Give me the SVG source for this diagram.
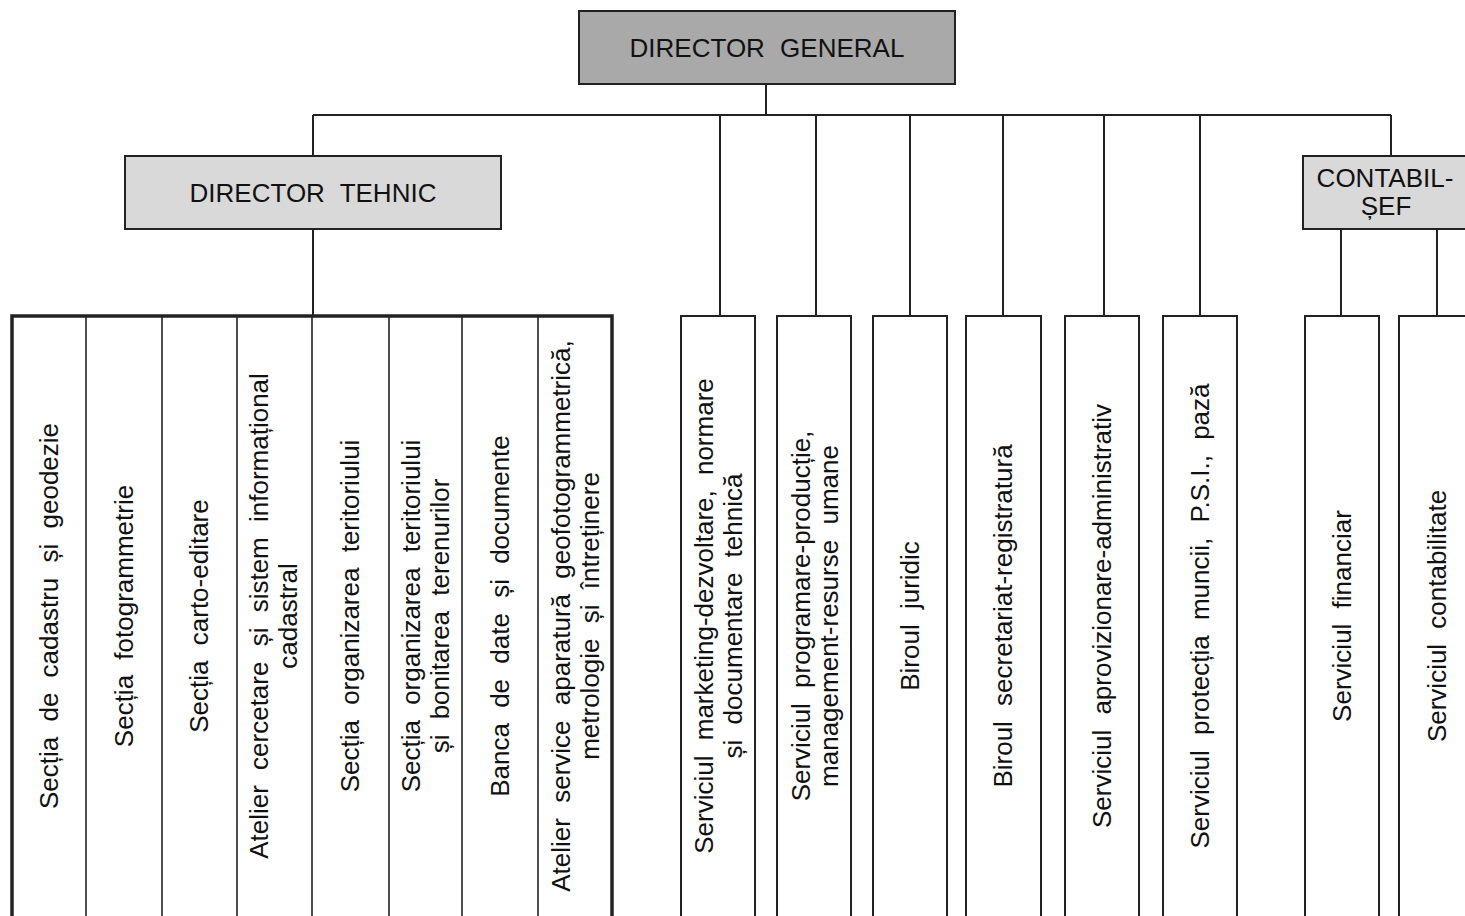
<svg xmlns="http://www.w3.org/2000/svg" width="1465" height="916" viewBox="0 0 1465 916">
<style>
.hdr{font-family:"Liberation Sans",Arial,sans-serif;font-size:26px;fill:#111;text-anchor:middle;word-spacing:8px}
.col{font-family:"Liberation Sans",Arial,sans-serif;font-size:26px;fill:#111;text-anchor:middle;word-spacing:8px}
.box{stroke:#222;stroke-width:2;fill:#fff}
.conn{stroke:#222;stroke-width:2;fill:none}
.div{stroke:#222;stroke-width:1.6}
</style>
<rect width="1465" height="916" fill="#fff"/>
<g id="connectors">
<path class="conn" d="M766 84V115M313 115H1391M313 115V156M1391 115V156M313 229V316M720 115V316M816 115V316M910 115V316M1003 115V316M1104 115V316M1200 115V316M1341 229V316M1437 229V316"/>
</g>
<g id="director-general">
<rect x="579" y="11" width="376" height="73" fill="#a9a9a9" stroke="#222" stroke-width="2"/>
<text class="hdr" x="767" y="57">DIRECTOR GENERAL</text>
</g>
<g id="director-tehnic">
<rect x="125" y="156" width="376" height="73" fill="#d9d9d9" stroke="#222" stroke-width="2"/>
<text class="hdr" x="313" y="202">DIRECTOR TEHNIC</text>
</g>
<g id="contabil-sef">
<rect x="1303" y="156" width="172" height="73" fill="#d9d9d9" stroke="#222" stroke-width="2"/>
<text class="hdr" x="1385" y="187">CONTABIL-</text>
<text class="hdr" x="1386" y="215">ȘEF</text>
</g>
<g id="tech-block">
<rect x="12" y="316" width="600" height="640" fill="#fff" stroke="#222" stroke-width="3.5"/>
<path class="div" d="M86 316V916M162 316V916M237 316V916M312 316V916M389 316V916M462 316V916M538 316V916"/>
</g>
<g id="t1"><text class="col" transform="translate(58,616) rotate(-90)">Secția de cadastru și geodezie</text></g>
<g id="t2"><text class="col" transform="translate(133,616) rotate(-90)">Secția fotogrammetrie</text></g>
<g id="t3"><text class="col" transform="translate(208,616) rotate(-90)">Secția carto-editare</text></g>
<g id="t4"><text class="col" transform="translate(268,616) rotate(-90)">Atelier cercetare și sistem informațional</text><text class="col" transform="translate(297,616) rotate(-90)">cadastral</text></g>
<g id="t5"><text class="col" transform="translate(359,616) rotate(-90)">Secția organizarea teritoriului</text></g>
<g id="t6"><text class="col" transform="translate(420,616) rotate(-90)">Secția organizarea teritoriului</text><text class="col" transform="translate(449,616) rotate(-90)">și bonitarea terenurilor</text></g>
<g id="t7"><text class="col" transform="translate(509,616) rotate(-90)">Banca de date și documente</text></g>
<g id="t8"><text class="col" transform="translate(570,616) rotate(-90)">Atelier service aparatură geofotogrammetrică,</text><text class="col" transform="translate(599,616) rotate(-90)">metrologie și întreținere</text></g>
<g id="s1"><rect class="box" x="681" y="316" width="74" height="640"/><text class="col" transform="translate(713,616) rotate(-90)">Serviciul marketing-dezvoltare, normare</text><text class="col" transform="translate(742,616) rotate(-90)">și documentare tehnică</text></g>
<g id="s2"><rect class="box" x="777" y="316" width="74" height="640"/><text class="col" transform="translate(810,616) rotate(-90)">Serviciul programare-producție,</text><text class="col" transform="translate(838,616) rotate(-90)">management-resurse umane</text></g>
<g id="s3"><rect class="box" x="873" y="316" width="74" height="640"/><text class="col" transform="translate(919,616) rotate(-90)">Biroul juridic</text></g>
<g id="s4"><rect class="box" x="966" y="316" width="75" height="640"/><text class="col" transform="translate(1012,616) rotate(-90)">Biroul secretariat-registratură</text></g>
<g id="s5"><rect class="box" x="1065" y="316" width="74" height="640"/><text class="col" transform="translate(1111,616) rotate(-90)">Serviciul aprovizionare-administrativ</text></g>
<g id="s6"><rect class="box" x="1163" y="316" width="74" height="640"/><text class="col" transform="translate(1209,616) rotate(-90)">Serviciul protecția muncii, P.S.I., pază</text></g>
<g id="s7"><rect class="box" x="1305" y="316" width="74" height="640"/><text class="col" transform="translate(1351,616) rotate(-90)">Serviciul financiar</text></g>
<g id="s8"><rect class="box" x="1399" y="316" width="74" height="640"/><text class="col" transform="translate(1446,616) rotate(-90)">Serviciul contabilitate</text></g>
</svg>
